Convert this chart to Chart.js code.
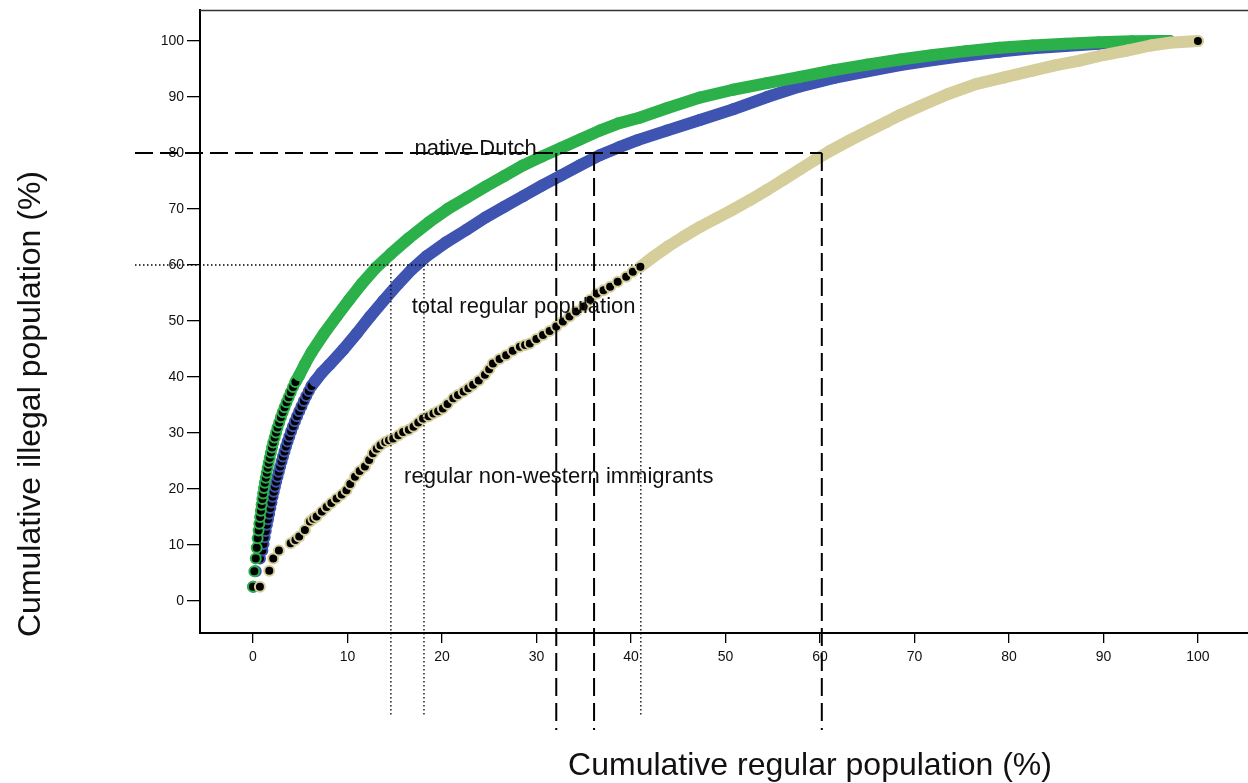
<!DOCTYPE html>
<html><head><meta charset="utf-8">
<script src="https://cdn.jsdelivr.net/npm/chart.js@4.4.1/dist/chart.umd.min.js"></script>
<style>html,body{margin:0;padding:0;background:#fff;overflow:hidden}canvas{display:block}</style>
</head><body>
<canvas id="c" width="1248" height="783"></canvas>
<script>
// ---- tick labels ----
const xTicks = [0,10,20,30,40,50,60,70,80,90,100];
const yTicks = [0,10,20,30,40,50,60,70,80,90,100];

// ---- native Dutch (green) ----
// individually visible markers at the low end of the curve
const dutchMarkX = [0.0,0.15,0.3,0.4,0.5,0.6,0.68,0.76,0.84,0.92,1.0,1.08,1.17,1.26,1.36,1.46,1.56,1.67,1.78,1.9,2.02,2.15,2.3,2.45,2.6,2.78,2.96,3.15,3.35,3.56,3.78,4.0,4.25,4.5];
const dutchMarkY = [2.55,5.3,7.6,9.5,11.2,12.6,13.8,15.0,16.1,17.2,18.2,19.2,20.2,21.1,22.0,22.9,23.8,24.7,25.6,26.5,27.4,28.3,29.2,30.1,31.0,31.9,32.8,33.7,34.6,35.5,36.4,37.3,38.2,39.1];
// dense part of the curve
const dutchTraceX = [4.9,5.5,6.2,7.5,8.85,10.2,11.5,13.0,14.6,16.5,18.6,20.6,22.6,24.6,26.6,28.6,30.6,32.6,34.6,36.7,38.7,40.9,43.8,47.3,50.8,54.4,57.9,61.5,65.0,68.5,72.0,75.5,79.0,82.5,86.0,89.5,93.0,97.0];
const dutchTraceY = [40.3,42.3,44.4,47.7,50.8,53.8,56.6,59.5,62.0,64.8,67.6,70.0,72.0,74.0,75.9,77.8,79.4,80.9,82.4,84.0,85.3,86.3,88.0,89.9,91.3,92.5,93.6,94.8,95.8,96.7,97.5,98.2,98.8,99.2,99.5,99.8,99.95,100];

// ---- total regular population (blue) ----
const totalMarkX = [0.05,0.3,0.75,1.0,1.12,1.24,1.36,1.48,1.6,1.72,1.84,1.96,2.08,2.2,2.33,2.46,2.6,2.74,2.88,3.03,3.18,3.34,3.5,3.67,3.85,4.04,4.24,4.45,4.67,4.9,5.14,5.39,5.65,5.92,6.2];
const totalMarkY = [2.55,5.3,7.6,9.0,10.2,11.4,12.5,13.6,14.6,15.6,16.6,17.6,18.6,19.5,20.4,21.3,22.2,23.1,24.0,24.9,25.8,26.7,27.6,28.5,29.4,30.3,31.2,32.1,33.0,33.9,34.8,35.7,36.6,37.5,38.4];
const totalTraceX = [6.6,7.3,8.1,9.56,11.0,12.4,13.8,15.3,16.8,18.4,20.4,22.6,24.6,26.6,28.6,30.6,32.6,34.6,36.7,38.7,40.7,43.8,47.3,50.8,54.4,57.9,61.5,65.0,68.5,72.0,75.5,79.0,82.5,86.0,89.5,93.0,97.0];
const totalTraceY = [39.3,40.8,42.2,44.9,47.8,50.8,53.6,56.5,59.2,61.6,64.0,66.3,68.5,70.4,72.3,74.2,76.0,77.8,79.6,81.0,82.3,84.0,85.9,87.8,90.0,91.9,93.4,94.6,95.7,96.6,97.4,98.1,98.7,99.1,99.5,99.8,100];

// ---- regular non-western immigrants (khaki) ----
const nonWestMarkX = [0.74,1.73,2.15,2.75,3.99,4.5,4.9,5.5,6.03,6.4,6.74,7.3,7.8,8.3,8.86,9.4,9.9,10.3,10.8,11.3,11.85,12.3,12.7,13.1,13.5,14.0,14.4,14.85,15.4,15.9,16.5,17.0,17.5,18.0,18.6,19.1,19.6,20.1,20.6,21.2,21.7,22.3,22.8,23.3,23.9,24.55,25.0,25.4,26.1,26.8,27.5,28.25,28.8,29.3,30.0,30.7,31.4,32.1,32.8,33.5,34.2,35.0,35.7,36.4,37.1,37.8,38.6,39.5,40.2,41.0];
const nonWestMarkY = [2.55,5.4,7.6,9.0,10.3,10.9,11.5,12.7,14.2,14.7,15.1,16.0,16.8,17.5,18.3,19.0,19.8,20.9,22.2,23.2,24.0,25.2,26.4,27.2,27.8,28.4,28.7,29.0,29.6,30.2,30.6,31.1,31.9,32.6,33.0,33.5,33.9,34.4,35.2,36.2,36.8,37.4,38.0,38.6,39.4,40.4,41.4,42.4,43.2,43.9,44.7,45.4,45.7,46.0,46.8,47.5,48.2,49.0,49.9,50.8,51.7,52.6,53.8,54.9,55.5,56.1,57.0,57.9,58.8,59.7];
const nonWestTraceX = [42.4,44.0,45.6,47.3,49.0,50.8,52.6,54.4,56.2,57.9,59.4,61.0,63.2,65.3,67.0,68.5,70.5,73.5,76.5,79.5,82.5,85.0,87.5,90.0,92.5,95.0,97.0,100];
const nonWestTraceY = [61.5,63.4,65.1,66.8,68.3,69.9,71.6,73.4,75.3,77.1,78.7,80.3,82.3,84.1,85.5,86.8,88.3,90.5,92.3,93.5,94.7,95.7,96.5,97.5,98.3,99.2,99.7,100];

// ---- reference lines (x where each curve reaches the level) ----
const dashedLevel = 80;
const dashedAtX = [32.1, 36.1, 60.2];
const dottedLevel = 60;
const dottedAtX = [14.6, 18.1, 41.05];

function build(mx,my,tx,ty){
  const pts=[];
  mx.forEach((x,i)=>pts.push({x:x,y:my[i]}));
  tx.forEach((x,i)=>pts.push({x:x,y:ty[i]}));
  return pts;
}
function makeDataset(label,color,mx,my,tx,ty){
  const data=build(mx,my,tx,ty);
  const nMark=mx.length, last=data.length-1;
  return {
    label:label, data:data, showLine:true, tension:0,
    borderColor:color, borderWidth:12, borderJoinStyle:'round', borderCapStyle:'round',
    segment:{borderColor:ctx=> ctx.p1DataIndex < nMark ? 'rgba(0,0,0,0)' : color},
    pointRadius:5, pointHoverRadius:5, pointBorderWidth:2, pointBorderColor:color,
    pointBackgroundColor:ctx=> (ctx.dataIndex < nMark || ctx.dataIndex===last) ? '#000' : color
  };
}

const GREEN='#2bb04a', BLUE='#3e54b0', KHAKI='#d5ce9a';
const FONT='"Liberation Sans", Arial, Helvetica, sans-serif';

const overlay={
  id:'overlay',
  afterDraw(chart){
    const ctx=chart.ctx, xs=chart.scales.x, ys=chart.scales.y, a=chart.chartArea;
    ctx.save();
    // top frame line
    ctx.strokeStyle='#333'; ctx.lineWidth=1.5;
    ctx.beginPath(); ctx.moveTo(a.left,a.top+0.5); ctx.lineTo(a.right,a.top+0.5); ctx.stroke();
    // dashed lines at 80
    ctx.strokeStyle='#000'; ctx.lineWidth=2; ctx.setLineDash([18,7]);
    const y80=ys.getPixelForValue(dashedLevel);
    ctx.beginPath(); ctx.moveTo(a.left-65,y80); ctx.lineTo(xs.getPixelForValue(Math.max(...dashedAtX)),y80); ctx.stroke();
    dashedAtX.forEach(v=>{const px=xs.getPixelForValue(v);ctx.beginPath();ctx.moveTo(px,y80);ctx.lineTo(px,a.bottom+97);ctx.stroke();});
    // dotted lines at 60
    ctx.lineWidth=1.3; ctx.setLineDash([1.5,2.5]);
    const y60=ys.getPixelForValue(dottedLevel);
    ctx.beginPath(); ctx.moveTo(a.left-65,y60); ctx.lineTo(xs.getPixelForValue(Math.max(...dottedAtX)),y60); ctx.stroke();
    dottedAtX.forEach(v=>{const px=xs.getPixelForValue(v);ctx.beginPath();ctx.moveTo(px,y60);ctx.lineTo(px,a.bottom+83);ctx.stroke();});
    ctx.setLineDash([]);
    // series labels
    ctx.fillStyle='#111'; ctx.font='22px '+FONT; ctx.textAlign='left'; ctx.textBaseline='alphabetic';
    ctx.fillText('native Dutch', xs.getPixelForValue(17.1), ys.getPixelForValue(79.6));
    ctx.fillText('total regular population', xs.getPixelForValue(16.8), ys.getPixelForValue(51.4));
    ctx.fillText('regular non-western immigrants', xs.getPixelForValue(16.0), ys.getPixelForValue(21.0));
    // axis titles
    ctx.font='32px '+FONT; ctx.textAlign='center';
    ctx.fillText('Cumulative regular population (%)', 810, 775);
    ctx.save(); ctx.translate(40,404); ctx.rotate(-Math.PI/2);
    ctx.fillText('Cumulative illegal population (%)', 0, 0);
    ctx.restore();
    ctx.restore();
  }
};

new Chart(document.getElementById('c'),{
  type:'scatter',
  data:{datasets:[
    makeDataset('regular non-western immigrants',KHAKI,nonWestMarkX,nonWestMarkY,nonWestTraceX,nonWestTraceY),
    makeDataset('native Dutch',GREEN,dutchMarkX,dutchMarkY,dutchTraceX,dutchTraceY),
    makeDataset('total regular population',BLUE,totalMarkX,totalMarkY,totalTraceX,totalTraceY)
  ]},
  options:{
    responsive:false, animation:false, devicePixelRatio:1, events:[],
    layout:{autoPadding:false,padding:{top:10,left:0,right:0,bottom:0}},
    plugins:{legend:{display:false},tooltip:{enabled:false}},
    scales:{
      x:{type:'linear',min:-5.6,max:105.3,
        afterBuildTicks:s=>{s.ticks=xTicks.map(v=>({value:v}));},
        afterFit:s=>{s.height=150;s.paddingLeft=0;s.paddingRight=0;},
        ticks:{font:{family:FONT,size:14},color:'#111',padding:6,maxRotation:0,autoSkip:false},
        grid:{display:true,drawOnChartArea:false,drawTicks:true,tickLength:10,color:'#000',lineWidth:1.3},
        border:{display:true,color:'#000',width:2}},
      y:{type:'linear',min:-5.71,max:105.54,
        afterBuildTicks:s=>{s.ticks=yTicks.map(v=>({value:v}));},
        afterFit:s=>{s.width=200;s.paddingTop=0;s.paddingBottom=0;},
        ticks:{font:{family:FONT,size:14},color:'#111',padding:3,autoSkip:false},
        grid:{display:true,drawOnChartArea:false,drawTicks:true,tickLength:13,color:'#000',lineWidth:1.3},
        border:{display:true,color:'#000',width:2}}
    }
  },
  plugins:[overlay]
});
</script>
</body></html>
